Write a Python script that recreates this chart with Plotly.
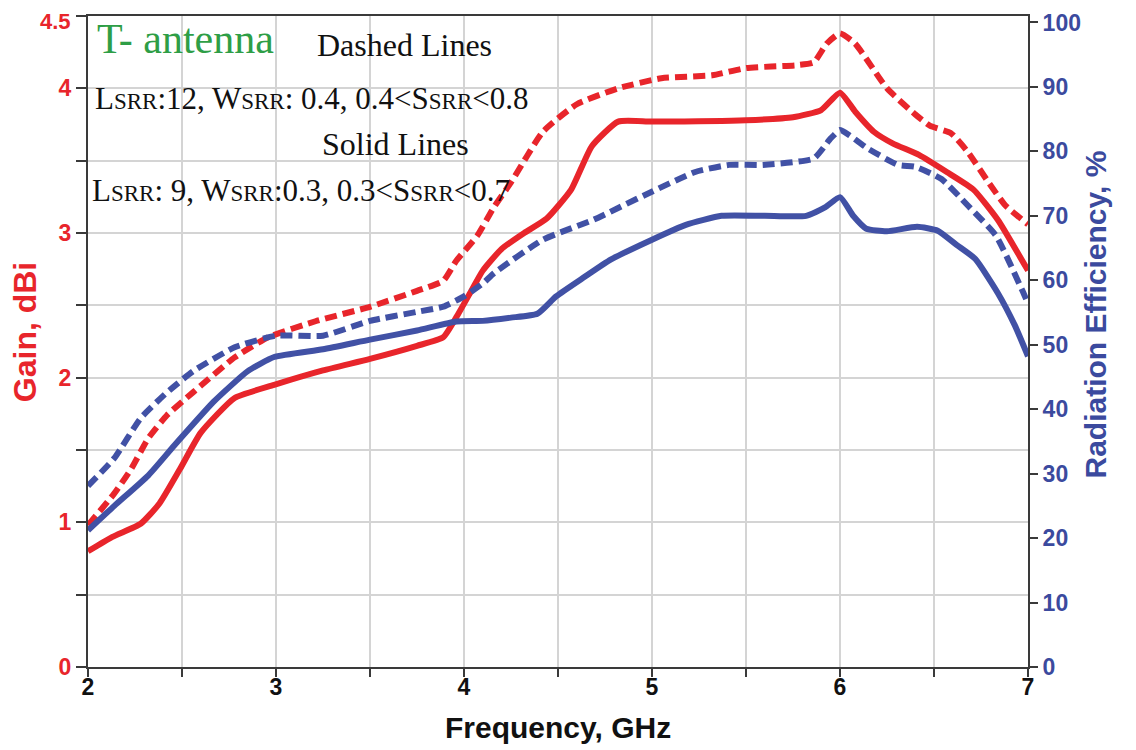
import plotly.graph_objects as go

# ---- data ----
gain_solid_f = [2.00, 2.13, 2.28, 2.38, 2.49, 2.60, 2.78, 2.99, 3.25, 3.50, 3.75, 3.89, 3.96, 4.03,
                4.10, 4.20, 4.32, 4.44, 4.57, 4.68, 4.82, 5.00, 5.50, 5.75, 5.90, 6.00, 6.08, 6.18,
                6.28, 6.42, 6.57, 6.71, 6.84, 7.00]
gain_solid = [0.80, 0.90, 0.99, 1.13, 1.37, 1.62, 1.86, 1.95, 2.05, 2.13, 2.22, 2.28, 2.42, 2.58,
              2.74, 2.89, 3.00, 3.10, 3.30, 3.60, 3.77, 3.77, 3.78, 3.80, 3.85, 3.97, 3.84, 3.70,
              3.62, 3.54, 3.42, 3.30, 3.09, 2.74]

gain_dashed_f = [2.00, 2.14, 2.23, 2.32, 2.42, 2.56, 2.78, 2.96, 3.21, 3.50, 3.75, 3.89, 3.96, 4.07,
                 4.16, 4.25, 4.42, 4.60, 4.82, 5.05, 5.32, 5.50, 5.77, 5.86, 5.93, 6.00, 6.08, 6.25,
                 6.40, 6.48, 6.59, 6.68, 6.79, 6.88, 7.00]
gain_dashed = [0.98, 1.20, 1.37, 1.58, 1.74, 1.90, 2.14, 2.28, 2.39, 2.49, 2.60, 2.67, 2.81, 2.98,
               3.18, 3.35, 3.70, 3.89, 4.00, 4.07, 4.09, 4.14, 4.16, 4.18, 4.31, 4.38, 4.31, 4.00,
               3.82, 3.74, 3.69, 3.56, 3.35, 3.19, 3.06]

eff_solid_f = [2.00, 2.14, 2.32, 2.46, 2.67, 2.85, 2.99, 3.25, 3.50, 3.75, 3.96, 4.10, 4.25, 4.39,
               4.49, 4.64, 4.78, 5.00, 5.18, 5.37, 5.60, 5.82, 5.92, 6.00, 6.07, 6.14, 6.25, 6.41,
               6.52, 6.62, 6.72, 6.84, 6.93, 7.00]
eff_solid = [21.2, 25.0, 29.7, 34.4, 41.2, 45.9, 48.1, 49.3, 50.8, 52.2, 53.6, 53.7, 54.2, 54.8,
             57.5, 60.5, 63.2, 66.3, 68.6, 70.0, 70.0, 70.0, 71.3, 72.9, 70.0, 68.0, 67.6, 68.3,
             67.7, 65.5, 63.3, 58.0, 53.0, 48.2]

eff_dashed_f = [2.00, 2.14, 2.28, 2.42, 2.56, 2.78, 3.00, 3.25, 3.50, 3.75, 3.89, 4.00, 4.10, 4.16,
                4.42, 4.69, 4.96, 5.23, 5.41, 5.59, 5.86, 5.95, 6.00, 6.05, 6.15, 6.31, 6.40, 6.54,
                6.68, 6.83, 6.97, 7.00]
eff_dashed = [28.1, 32.4, 38.6, 42.6, 45.9, 49.6, 51.4, 51.4, 53.7, 55.1, 55.9, 57.5, 59.5, 61.1,
              66.3, 69.4, 73.2, 76.8, 77.9, 77.9, 78.9, 82.0, 83.3, 82.5, 80.4, 77.9, 77.6, 75.7,
              71.6, 66.9, 58.4, 56.4]

x_tickvals = [2, 2.5, 3, 3.5, 4, 4.5, 5, 5.5, 6, 6.5, 7]
x_ticktext = ["2", "", "3", "", "4", "", "5", "", "6", "", "7"]
gain_tickvals = [0, 0.5, 1, 1.5, 2, 2.5, 3, 3.5, 4, 4.5]
gain_ticktext = ["0", "", "1", "", "2", "", "3", "", "4", "4.5"]
eff_tickvals = [0, 10, 20, 30, 40, 50, 60, 70, 80, 90, 100]

RED = "#e8252b"
BLUE = "#4151a5"
BLUE_TXT = "#3b4a9e"
SANS = "Liberation Sans, Arial"
SERIF = "Liberation Serif, Times New Roman"

fig = go.Figure()
line_shape = dict(shape="spline", smoothing=0.5)
fig.add_trace(go.Scatter(x=gain_dashed_f, y=gain_dashed, mode="lines", yaxis="y",
                         line=dict(color=RED, width=6, dash="12px,6px", **line_shape), showlegend=False))
fig.add_trace(go.Scatter(x=gain_solid_f, y=gain_solid, mode="lines", yaxis="y",
                         line=dict(color=RED, width=6, **line_shape), showlegend=False))
fig.add_trace(go.Scatter(x=eff_dashed_f, y=eff_dashed, mode="lines", yaxis="y2",
                         line=dict(color=BLUE, width=6, dash="12px,6px", **line_shape), showlegend=False))
fig.add_trace(go.Scatter(x=eff_solid_f, y=eff_solid, mode="lines", yaxis="y2",
                         line=dict(color=BLUE, width=6, **line_shape), showlegend=False))

# the top gain label (4.5) sits at the very top edge; draw it as an annotation
# just inside the page so that it is not clipped
top_label = gain_ticktext[-1]
left_ticktext = gain_ticktext[:-1] + [""]

fig.update_layout(
    width=1128, height=742,
    margin=dict(l=80, r=108, t=8, b=83, pad=0),
    paper_bgcolor="white", plot_bgcolor="white",
    xaxis=dict(range=[2, 7], tickvals=x_tickvals, ticktext=x_ticktext, automargin=False,
               showgrid=True, gridcolor="#d4d4d4", gridwidth=2,
               showline=True, linecolor="#3a3a3a", linewidth=2, mirror=True,
               ticks="outside", ticklen=8, tickwidth=2, tickcolor="#3a3a3a",
               ticklabelstandoff=-10,
               tickfont=dict(family=SANS, size=23, color="#111", weight="bold"), zeroline=False),
    yaxis=dict(range=[0, 4.5], tickvals=gain_tickvals, ticktext=left_ticktext, automargin=False,
               showgrid=True, gridcolor="#d4d4d4", gridwidth=2,
               showline=True, linecolor="#3a3a3a", linewidth=2,
               ticks="outside", ticklen=10, tickwidth=2, tickcolor="#3a3a3a",
               tickfont=dict(family=SANS, size=23, color=RED, weight="bold"), zeroline=False),
    yaxis2=dict(range=[0, 101], tickvals=eff_tickvals, overlaying="y", side="right", automargin=False,
                showgrid=False, showline=True, linecolor="#3a3a3a", linewidth=2,
                ticks="outside", ticklen=8, tickwidth=2, tickcolor="#3a3a3a",
                ticklabeloverflow="allow",
                tickfont=dict(family=SANS, size=23, color=BLUE_TXT, weight="bold"), zeroline=False),
)

fig.add_annotation(text=top_label, xref="paper", yref="paper", x=-0.0172, y=1.0124,
                   xanchor="right", yanchor="top", showarrow=False, borderpad=0,
                   font=dict(family=SANS, size=22, color=RED, weight="bold"))

sm = '<span style="font-size:23px">SRR</span>'
annots = [
    dict(text="T- antenna", x=0.0075, y=0.965, font=dict(family=SERIF, size=42, color="#2e9e46")),
    dict(text="Dashed Lines", x=0.2414, y=0.955, font=dict(family=SERIF, size=32, color="#111")),
    dict(text="L" + sm + ":12, W" + sm + ": 0.4, 0.4&lt;S" + sm + "&lt;0.8", x=0.0054, y=0.874,
         font=dict(family=SERIF, size=31, color="#111")),
    dict(text="Solid Lines", x=0.2468, y=0.804, font=dict(family=SERIF, size=32, color="#111")),
    dict(text="L" + sm + ": 9, W" + sm + ":0.3, 0.3&lt;S" + sm + "&lt;0.7", x=0.0021, y=0.7325,
         font=dict(family=SERIF, size=31, color="#111")),
]
for a in annots:
    fig.add_annotation(xref="paper", yref="paper", xanchor="left", yanchor="middle",
                       showarrow=False, **a)

fig.add_annotation(text="Gain, dBi", xref="paper", yref="paper", x=-0.0676, y=0.515,
                   textangle=-90, showarrow=False, xanchor="center", yanchor="middle",
                   font=dict(family=SANS, size=32, color=RED, weight="bold"))
fig.add_annotation(text="Radiation Efficiency, %", xref="paper", yref="paper", x=1.072, y=0.541,
                   textangle=-90, showarrow=False, xanchor="center", yanchor="middle",
                   font=dict(family=SANS, size=30, color=BLUE_TXT, weight="bold"))
fig.add_annotation(text="Frequency, GHz", xref="paper", yref="paper", x=0.5, y=-0.093,
                   showarrow=False, xanchor="center", yanchor="middle",
                   font=dict(family=SANS, size=30, color="#111", weight="bold"))

fig.write_html("out.html")
